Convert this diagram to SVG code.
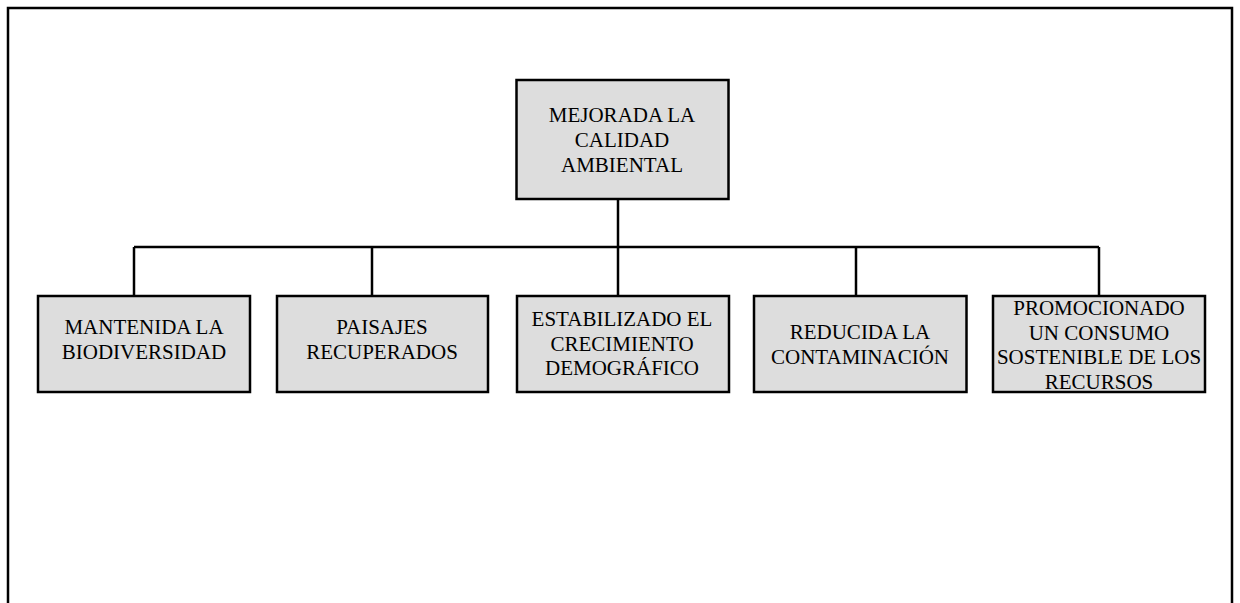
<svg xmlns="http://www.w3.org/2000/svg" width="1240" height="603" viewBox="0 0 1240 603">
<style>
.box{fill:#dddddd;stroke:#000;stroke-width:2.5}
.t{font-family:"Liberation Serif","Times New Roman",serif;font-size:21px;fill:#000;text-anchor:middle}
.c{stroke:#000;stroke-width:2.5;fill:none}
</style>
<rect x="0" y="0" width="1240" height="603" fill="#fff"/>
<path d="M8 610 V8 H1232 V610" fill="none" stroke="#000" stroke-width="2.5"/>
<g id="connectors">
<line class="c" x1="618" y1="199" x2="618" y2="247"/>
<line class="c" x1="134" y1="247" x2="1099" y2="247"/>
<line class="c" x1="134" y1="247" x2="134" y2="296"/>
<line class="c" x1="372" y1="247" x2="372" y2="296"/>
<line class="c" x1="618" y1="247" x2="618" y2="296"/>
<line class="c" x1="856" y1="247" x2="856" y2="296"/>
<line class="c" x1="1099" y1="247" x2="1099" y2="296"/>
</g>
<g id="root">
<rect class="box" x="516.5" y="80" width="212" height="119"/>
<text class="t" x="622" y="122">MEJORADA LA</text>
<text class="t" x="622" y="147">CALIDAD</text>
<text class="t" x="622" y="172">AMBIENTAL</text>
</g>
<g id="n1">
<rect class="box" x="38" y="296" width="212" height="96"/>
<text class="t" x="144" y="334">MANTENIDA LA</text>
<text class="t" x="144" y="359">BIODIVERSIDAD</text>
</g>
<g id="n2">
<rect class="box" x="277" y="296" width="211" height="96"/>
<text class="t" x="382" y="334">PAISAJES</text>
<text class="t" x="382" y="359">RECUPERADOS</text>
</g>
<g id="n3">
<rect class="box" x="517" y="296" width="212" height="96"/>
<text class="t" x="622" y="326">ESTABILIZADO EL</text>
<text class="t" x="622" y="350.5">CRECIMIENTO</text>
<text class="t" x="622" y="375">DEMOGRÁFICO</text>
</g>
<g id="n4">
<rect class="box" x="754" y="296" width="212.5" height="96"/>
<text class="t" x="860" y="339">REDUCIDA LA</text>
<text class="t" x="860" y="363.5">CONTAMINACIÓN</text>
</g>
<g id="n5">
<rect x="993" y="296" width="212" height="96" fill="#dddddd"/>
<text class="t" x="1099" y="315">PROMOCIONADO</text>
<text class="t" x="1099" y="339.5">UN CONSUMO</text>
<text class="t" x="1099" y="364">SOSTENIBLE DE LOS</text>
<text class="t" x="1099" y="388.5">RECURSOS</text>
<rect x="993" y="296" width="212" height="96" fill="none" stroke="#000" stroke-width="2.5"/>
</g>
</svg>
